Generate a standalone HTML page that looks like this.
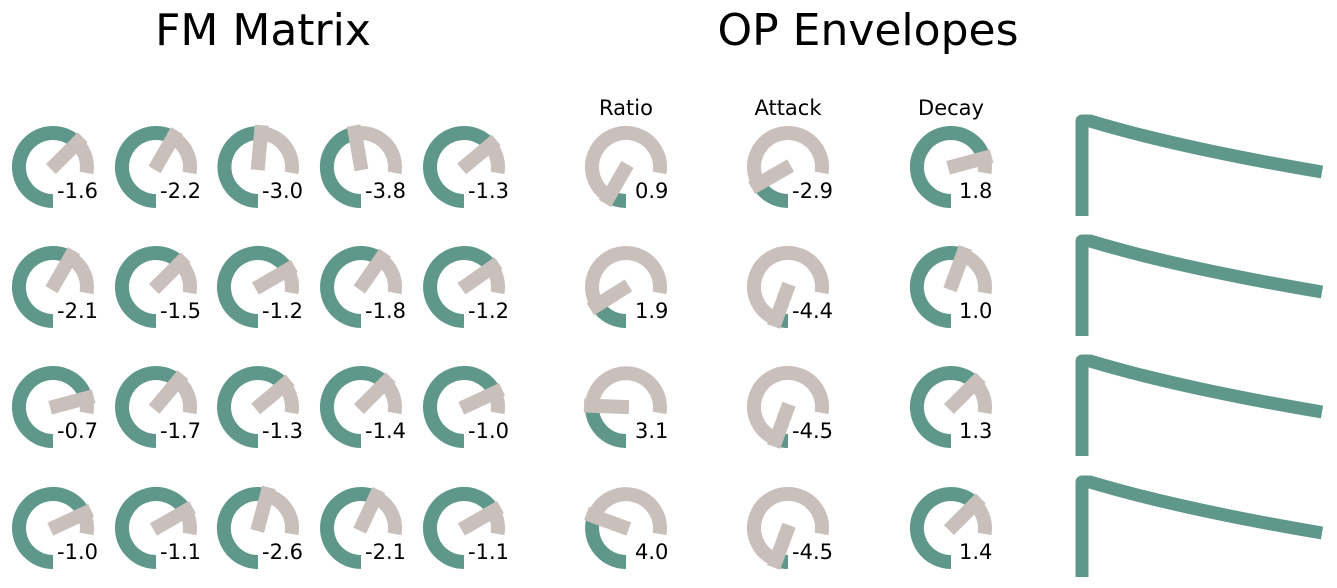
<!DOCTYPE html>
<html><head><meta charset="utf-8"><style>
html,body{margin:0;padding:0;background:#fff;}
svg{display:block;font-family:"DejaVu Sans","Liberation Sans",sans-serif;}
</style></head><body>
<svg id="s" width="1337" height="588" viewBox="0 0 1337 588" xmlns="http://www.w3.org/2000/svg">
<rect width="1337" height="588" fill="#fff"/>
<g id="k"></g>
<text x="263" y="45" font-size="44" text-anchor="middle">FM Matrix</text>
<text x="868" y="45" font-size="44" text-anchor="middle">OP Envelopes</text>
<text x="626" y="115" font-size="21" text-anchor="middle">Ratio</text>
<text x="788" y="115" font-size="21" text-anchor="middle">Attack</text>
<text x="951" y="115" font-size="21" text-anchor="middle">Decay</text>
<g font-size="21">
<text x="57" y="198">-1.6</text><text x="160" y="198">-2.2</text><text x="262" y="198">-3.0</text><text x="365" y="198">-3.8</text><text x="468" y="198">-1.3</text>
<text x="57" y="318">-2.1</text><text x="160" y="318">-1.5</text><text x="262" y="318">-1.2</text><text x="365" y="318">-1.8</text><text x="468" y="318">-1.2</text>
<text x="57" y="438">-0.7</text><text x="160" y="438">-1.7</text><text x="262" y="438">-1.3</text><text x="365" y="438">-1.4</text><text x="468" y="438">-1.0</text>
<text x="57" y="559">-1.0</text><text x="160" y="559">-1.1</text><text x="262" y="559">-2.6</text><text x="365" y="559">-2.1</text><text x="468" y="559">-1.1</text>
<text x="635" y="198">0.9</text><text x="792" y="198">-2.9</text><text x="959" y="198">1.8</text>
<text x="635" y="318">1.9</text><text x="792" y="318">-4.4</text><text x="959" y="318">1.0</text>
<text x="635" y="438">3.1</text><text x="792" y="438">-4.5</text><text x="959" y="438">1.3</text>
<text x="635" y="559">4.0</text><text x="792" y="559">-4.5</text><text x="959" y="559">1.4</text>
</g>
<g fill="none" stroke="#5f988b" stroke-width="13" stroke-linejoin="round">
<path d="M1082 216 V121 H1090 Q1180 148 1322 172"/>
<path d="M1082 336 V241 H1090 Q1180 268 1322 292"/>
<path d="M1082 456 V361 H1090 Q1180 388 1322 412"/>
<path d="M1082 577 V482 H1090 Q1180 509 1322 533"/>
</g>
</svg>
<script>
var T="#5f988b",G="#c9bfbb";
var cols=[53,156,258,361,464,626,788,951], rows=[167,287,407,528];
var ang=[
[45,60,85,100,40,240,210,15],
[60,45,30,55,35,212,250,70],
[15,50,40,45,25,178,250,45],
[25,30,75,65,30,160,250,45]];
var g=document.getElementById('k'),h='';
function pt(cx,cy,r,a){var t=a*Math.PI/180;return [cx+r*Math.cos(t),cy-r*Math.sin(t)];}
function arc(cx,cy,r,a1,a2,c){
 var p1=pt(cx,cy,r,a1),p2=pt(cx,cy,r,a2),large=(a1-a2)>180?1:0;
 return '<path d="M'+p1[0].toFixed(1)+' '+p1[1].toFixed(1)+' A'+r+' '+r+' 0 '+large+' 1 '+p2[0].toFixed(1)+' '+p2[1].toFixed(1)+'" fill="none" stroke="'+c+'" stroke-width="14"/>';}
for(var i=0;i<4;i++)for(var j=0;j<8;j++){
 var cx=cols[j],cy=rows[i],a=ang[i][j];
 h+=arc(cx,cy,34,270,a,T);
 h+=arc(cx,cy,34,a,-10,G);
 var p=pt(cx,cy,42,a),q=pt(cx,cy,-3,a);
 h+='<line x1="'+q[0].toFixed(1)+'" y1="'+q[1].toFixed(1)+'" x2="'+p[0].toFixed(1)+'" y2="'+p[1].toFixed(1)+'" stroke="'+G+'" stroke-width="14"/>';
}
g.innerHTML=h;
</script>
</body></html>
